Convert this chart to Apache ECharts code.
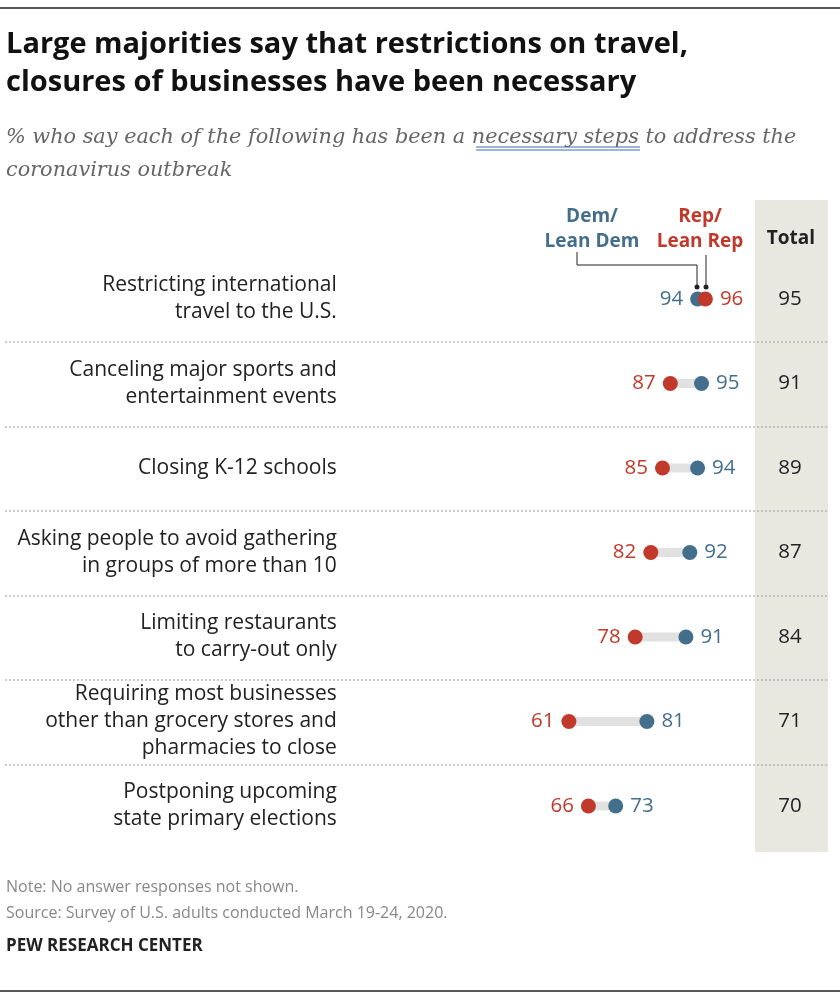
<!DOCTYPE html>
<html>
<head>
<meta charset="utf-8" />
<script src="https://cdn.jsdelivr.net/npm/echarts@6/dist/echarts.min.js"></script>
<style>body{margin:0;background:#fff}</style>
</head>
<body>
<div id="main" style="width:840px;height:1000px;"></div>
<script type="text/javascript">
var categories = [
  'Restricting international\ntravel to the U.S.',
  'Canceling major sports and\nentertainment events',
  'Closing K-12 schools',
  'Asking people to avoid gathering\nin groups of more than 10',
  'Limiting restaurants\nto carry-out only',
  'Requiring most businesses\nother than grocery stores and\npharmacies to close',
  'Postponing upcoming\nstate primary elections'
];
var demValues = [94, 95, 94, 92, 91, 81, 73];
var repValues = [96, 87, 85, 82, 78, 61, 66];
var totalValues = [95, 91, 89, 87, 84, 71, 70];

var DEM = '#436f8c', REP = '#c0392b';
var font = '"Open Sans", Roboto, sans-serif';

// 低值标签放左边，高值放右边
function pts(vals, other) {
  return vals.map(function (v, i) {
    return {
      value: [v, categories[i]],
      label: { position: v < other[i] ? 'left' : 'right' }
    };
  });
}

var myChart = echarts.init(document.getElementById('main'));
var option = {
  animation: false,
  textStyle: { fontFamily: font },
  grid: { left: 338.8, width: 382.2, top: 256.75, height: 591.5 },
  xAxis: { type: 'value', min: 2, max: 100, show: false },
  yAxis: [
    { type: 'category', data: categories, inverse: true,
      axisLine: { show: false }, axisTick: { show: false }, splitLine: { show: false },
      axisLabel: { margin: 2, fontSize: 21, color: '#222', lineHeight: 27, align: 'right', fontFamily: font } },
    { type: 'category', data: totalValues.map(String), inverse: true, position: 'right',
      axisLine: { show: false }, axisTick: { show: false },
      axisLabel: { margin: 69, fontSize: 20.5, color: '#222', align: 'center', fontFamily: font } }
  ],
  graphic: [
    { type: 'rect', shape: { x: 755, y: 200, width: 73, height: 652 }, style: { fill: '#e9e8e0' }, z: -10 },
    { type: 'line', shape: { x1: 0, y1: 8, x2: 840, y2: 8 }, style: { stroke: '#222', lineWidth: 1.5 } },
    { type: 'line', shape: { x1: 0, y1: 991, x2: 840, y2: 991 }, style: { stroke: '#222', lineWidth: 1.5 } },
    { type: 'text', left: 6, top: 26, style: { text: 'Large majorities say that restrictions on travel,\nclosures of businesses have been necessary',
      font: 'bold 29px "Open Sans", sans-serif', lineHeight: 38, fill: '#111' } },
    { type: 'text', left: 6, top: 121, style: { text: '% who say each of the following has been a necessary steps to address the\ncoronavirus outbreak',
      font: 'italic 20.8px "DejaVu Serif", serif', lineHeight: 33, fill: '#666' } },
    { type: 'line', shape: { x1: 476, y1: 147, x2: 640, y2: 147 }, style: { stroke: '#3b6fb6', lineWidth: 1 } },
    { type: 'line', shape: { x1: 476, y1: 150, x2: 640, y2: 150 }, style: { stroke: '#3b6fb6', lineWidth: 1 } },
    { type: 'text', x: 592, y: 204, style: { text: 'Dem/\nLean Dem', font: 'bold 19px "Open Sans", sans-serif', lineHeight: 25, fill: DEM, align: 'center' } },
    { type: 'text', x: 700, y: 204, style: { text: 'Rep/\nLean Rep', font: 'bold 19px "Open Sans", sans-serif', lineHeight: 25, fill: REP, align: 'center' } },
    { type: 'text', x: 791, y: 229, style: { text: 'Total', font: 'bold 19px "Open Sans", sans-serif', fill: '#222', align: 'center' } },
    { type: 'polyline', shape: { points: [[577, 252], [577, 265], [697, 265], [697, 287]] }, style: { stroke: '#222', fill: null, lineWidth: 1 } },
    { type: 'line', shape: { x1: 706, y1: 255, x2: 706, y2: 287 }, style: { stroke: '#222', lineWidth: 1 } },
    { type: 'circle', shape: { cx: 697, cy: 287, r: 2.5 }, style: { fill: '#222' } },
    { type: 'circle', shape: { cx: 706, cy: 287, r: 2.5 }, style: { fill: '#222' } },
    { type: 'text', left: 6, top: 874, style: { text: 'Note: No answer responses not shown.\nSource: Survey of U.S. adults conducted March 19-24, 2020.',
      font: '16px "Open Sans", sans-serif', lineHeight: 26, fill: '#888' } },
    { type: 'text', left: 6, top: 938, style: { text: 'PEW RESEARCH CENTER', font: 'bold 17px "Open Sans", sans-serif', fill: '#222' } }
  ].concat([342, 427, 511, 596, 680, 765].map(function (y) {
    return { type: 'line', shape: { x1: 5, y1: y, x2: 828, y2: y }, style: { stroke: '#999', lineWidth: 1, lineDash: [2, 2] } };
  })),
  series: [
    { type: 'custom',
      renderItem: function (params, api) {
        var a = api.coord([api.value(0), api.value(2)]);
        var b = api.coord([api.value(1), api.value(2)]);
        return { type: 'line', shape: { x1: a[0], y1: a[1], x2: b[0], y2: b[1] },
          style: { stroke: '#e1e1e1', lineWidth: 9 } };
      },
      data: demValues.map(function (v, i) { return [v, repValues[i], i]; }) },
    { type: 'scatter', name: 'Dem', symbolSize: 15, itemStyle: { color: DEM, opacity: 1 },
      label: { show: true, color: DEM, fontSize: 20.5, distance: 7, fontFamily: font, formatter: function (p) { return p.value[0]; } },
      data: pts(demValues, repValues), z: 3 },
    { type: 'scatter', name: 'Rep', symbolSize: 15, itemStyle: { color: REP, opacity: 1 },
      label: { show: true, color: REP, fontSize: 20.5, distance: 7, fontFamily: font, formatter: function (p) { return p.value[0]; } },
      data: pts(repValues, demValues), z: 4 }
  ]
};
myChart.setOption(option);
</script>
</body>
</html>
